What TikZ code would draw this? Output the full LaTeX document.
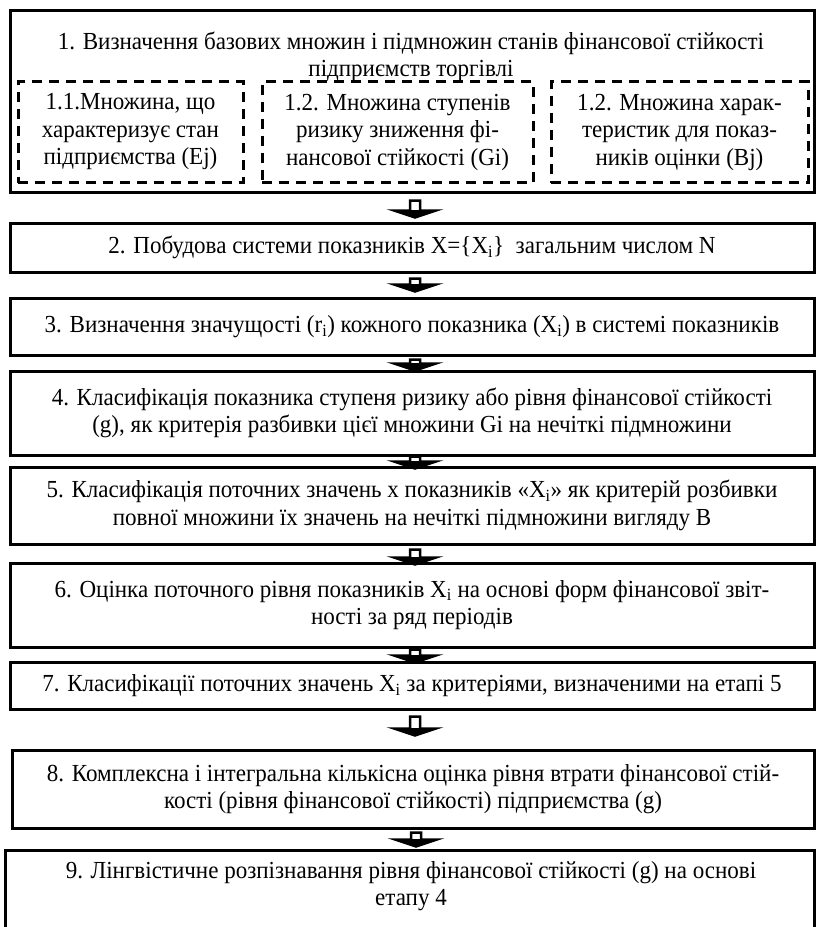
\documentclass[tikz,border=0pt]{standalone}
\usepackage{fontspec}
\setmainfont{Liberation Serif}[FakeStretch=0.94]
\usetikzlibrary{calc}
\tikzset{
  box/.style={draw, line width=3pt, align=center, inner sep=0pt, minimum width=804pt},
  dbox/.style={draw, line width=3pt, dash pattern=on 10pt off 7pt, align=center, inner sep=0pt, minimum height=101pt},
  txt/.style={align=center, inner sep=0pt},
  barrow/.style={draw, line width=2.5pt, fill=white, line join=miter,
    to path={let \p1=(\tikztostart), \p2=(\tikztotarget) in
      (\x1-5pt,\y1) -- (\x1+5pt,\y1) -- (\x1+5pt,\y2+7pt) -- (\x1+21pt,\y2+7pt)
      -- (\x1,\y2) -- (\x1-21pt,\y2+7pt) -- (\x1-5pt,\y2+7pt) -- cycle}},
  bhead/.style={fill=black, draw, line width=1pt, line join=miter,
    to path={let \p1=(\tikztostart), \p2=(\tikztotarget) in
      (\x1+21pt,\y2+7pt) -- (\x1,\y2) -- (\x1-21pt,\y2+7pt) -- cycle}}
}
\newcommand{\blockarrow}[2]{\draw[barrow] #1 to #2; \filldraw[bhead] #1 to #2;}
\begin{document}
\begin{tikzpicture}[x=1pt, y=-1pt, font=\fontsize{24.5}{27.5}\selectfont]
\useasboundingbox (0,0) rectangle (817,927);
\clip (0,0) rectangle (817,927);
\fill[white] (0,0) rectangle (817,927);
% box 1
\node[box, minimum height=182pt] (b1) at (412,101) {};
\node[txt] (t1) at (411,57) {1. Визначення базових множин і підмножин станів фінансової стійкості\\підприємств торгівлі};
\node[dbox, minimum width=225pt] (d1) at (130.5,132) {1.1.Множина, що\\характеризує стан\\підприємства (Ej)};
\node[dbox, minimum width=271pt] (d2) at (397.5,132) {1.2. Множина ступенів\\ризику зниження фі-\\нансової стійкості (Gi)};
\node[dbox, minimum width=257pt] (d3) at (679.5,132) {1.2. Множина харак-\\теристик для показ-\\ників оцінки (Bj)};
% boxes 2-8
\node[box, minimum height=49pt] (b2) at (412,247.5) {2. Побудова системи показників X=\{X\textsubscript{i}\}\ \ загальним числом N};
\node[box, minimum height=57pt] (b3) at (412,326.5) {3. Визначення значущості (r\textsubscript{i}) кожного показника (X\textsubscript{i}) в системі показників};
\node[box, minimum height=84pt] (b4) at (412,413) {4. Класифікація показника ступеня ризику або рівня фінансової стійкості\\(g), як критерія разбивки цієї множини Gi на нечіткі підмножини};
\node[box, minimum height=77pt] (b5) at (412,505.5) {5. Класифікація поточних значень х показників «X\textsubscript{i}» як критерій розбивки\\повної множини їх значень на нечіткі підмножини вигляду В};
\node[box, minimum height=84pt] (b6) at (412,605) {6. Оцінка поточного рівня показників X\textsubscript{i} на основі форм фінансової звіт-\\ності за ряд періодів};
\node[box, minimum height=47pt] (b7) at (412,685.5) {7. Класифікації поточних значень X\textsubscript{i} за критеріями, визначеними на етапі 5};
\node[box, minimum height=78pt, minimum width=802pt] (b8) at (413,789) {8. Комплексна і інтегральна кількісна оцінка рівня втрати фінансової стій-\\кості (рівня фінансової стійкості) підприємства (g)};
% box 9 (runs off the bottom)
\node[box, minimum height=100pt, minimum width=809pt] (b9) at (409.5,900) {};
\node[txt] (t9) at (411,886) {9. Лінгвістичне розпізнавання рівня фінансової стійкості (g) на основі\\етапу 4};
% arrows
\blockarrow{([xshift=3pt,yshift=-7pt]b1.south)}{([xshift=3pt,yshift=4pt]b2.north)}
\blockarrow{([xshift=3pt,yshift=-5pt]b2.south)}{([xshift=3pt,yshift=5pt]b3.north)}
\blockarrow{([xshift=3pt,yshift=-3pt]b3.south)}{([xshift=3pt,yshift=-1pt]b4.north)}
\blockarrow{([xshift=3pt,yshift=0pt]b4.south)}{([xshift=3pt,yshift=-3pt]b5.north)}
\blockarrow{([xshift=3pt,yshift=-4pt]b5.south)}{([xshift=3pt,yshift=-3pt]b6.north)}
\blockarrow{([xshift=3pt,yshift=-1pt]b6.south)}{([xshift=3pt,yshift=-2pt]b7.north)}
\blockarrow{([xshift=3pt,yshift=-6pt]b7.south)}{([xshift=3pt,yshift=13pt]b8.north)}
\blockarrow{([xshift=3pt,yshift=-3pt]b8.south)}{([xshift=3pt,yshift=2pt]b9.north)}
\end{tikzpicture}
\end{document}
